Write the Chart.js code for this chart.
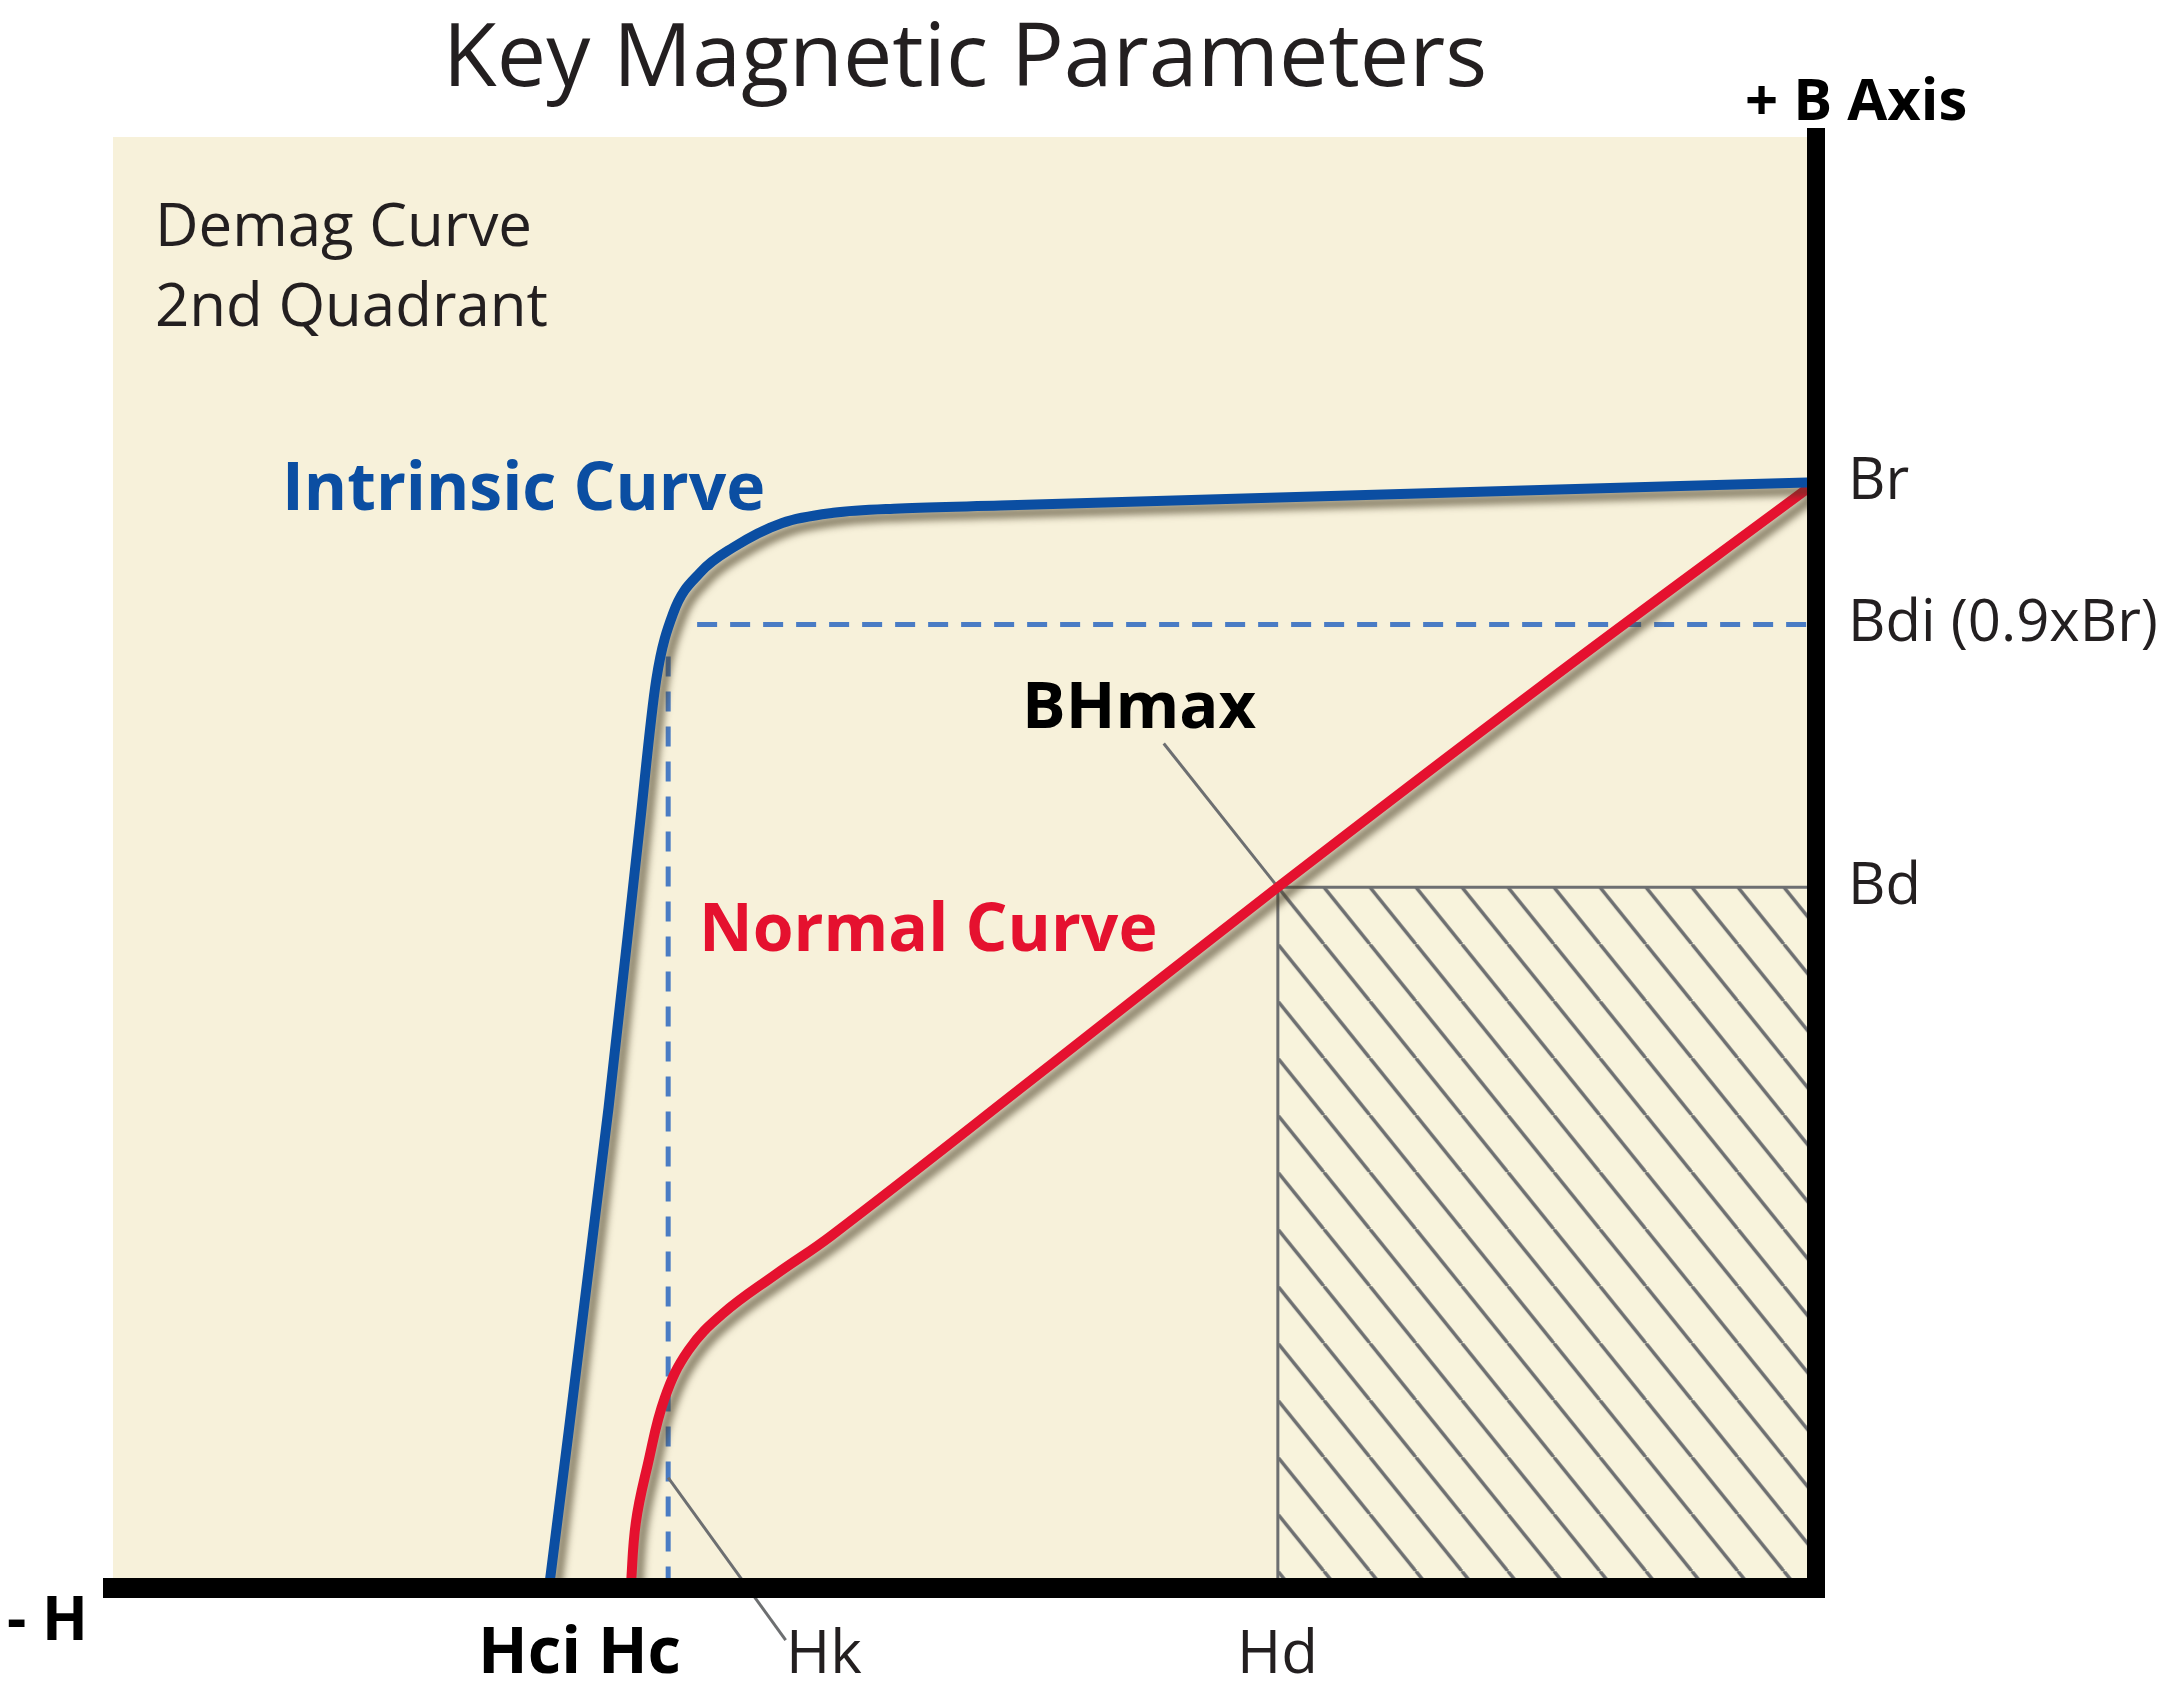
<!DOCTYPE html>
<html>
<head>
<meta charset="utf-8">
<title>Key Magnetic Parameters</title>
<script src="https://cdn.jsdelivr.net/npm/chart.js@4/dist/chart.umd.min.js"></script>
<style>
  html, body { margin: 0; padding: 0; background: #fff; }
  #wrap { width: 2171px; height: 1688px; }
</style>
</head>
<body>
<div id="wrap"><canvas id="bhChart" width="2171" height="1688"></canvas></div>
<script>
// H runs from -100 (far left) to 0 at the B axis, B from 0 up to 100
var intrinsicH = [-74.4, -70.9, -69.1, -68.1, -67.1, -65.5, -63.6, -60.7, -57.7, -53.8, -47.9, -24.4, 0];
var intrinsicB = [0, 33.1, 52.2, 62.6, 67.2, 70.0, 71.7, 73.4, 74.1, 74.4, 74.6, 75.4, 76.2];

var normalH = [-69.6, -69.3, -68.6, -67.6, -66.2, -64.2, -61.1, -57.8, -45.0, -31.6, -16.2, 0];
var normalB = [0, 4.5, 8.5, 13.1, 16.4, 18.9, 21.6, 24.3, 36.0, 48.3, 62.1, 76.2];

// key points
var Br = 76.2;
var Bdi = 66.4;
var Bd = 48.3;
var Hd = -31.6;
var Hk = -67.4;

var bTickValues = [Bd, Bdi, Br];
var bTickLabels = ['Bd', 'Bdi (0.9xBr)', 'Br'];

// leader lines for the labels
var bhLeaderH = [-38.3, Hd];
var bhLeaderB = [58.2, Bd];
var hkLeaderH = [Hk, -60.5];
var hkLeaderB = [7.6, -3.6];

var FONT = '"Open Sans", "Noto Sans", sans-serif';
var BLUE = '#0b4ea2';
var RED = '#e5112f';
var DASH = '#4a7cc4';
var GREY = '#6d6f71';
var INK = '#231f20';
var CREAM = '#f7f1da';

function pts(xs, ys) {
    return xs.map(function (x, i) { return { x: x, y: ys[i] }; });
}

// hatch tile for the BHmax box
var tile = document.createElement('canvas');
tile.width = 46;
tile.height = 57;
var tctx = tile.getContext('2d');
tctx.fillStyle = '#f8f3dc';
tctx.fillRect(0, 0, 46, 57);
tctx.strokeStyle = GREY;
tctx.lineWidth = 3.5;
for (var k = -1; k <= 1; k++) {
    tctx.beginPath();
    tctx.moveTo(k * 46, 0);
    tctx.lineTo(k * 46 + 46, 57);
    tctx.stroke();
}
var canvas = document.getElementById('bhChart');
var ctx = canvas.getContext('2d');
var hatch = ctx.createPattern(tile, 'repeat');

var labels = [
    { t: 'Key Magnetic Parameters', x: 965, y: 86, f: '400 88px ' + FONT, c: INK, a: 'center' },
    { t: '+ B Axis', x: 1745, y: 120, f: 'bold 58px ' + FONT, c: '#000' },
    { t: '- H', x: 7, y: 1640, f: 'bold 60px ' + FONT, c: '#000' },
    { t: 'Demag Curve', x: 155, y: 246, f: '400 60px ' + FONT, c: INK },
    { t: '2nd Quadrant', x: 155, y: 326, f: '400 60px ' + FONT, c: INK },
    { t: 'Intrinsic Curve', x: 282, y: 510, f: 'bold 66px ' + FONT, c: BLUE },
    { t: 'Normal Curve', x: 699, y: 951, f: 'bold 66px ' + FONT, c: RED },
    { t: 'BHmax', x: 1022, y: 728, f: 'bold 65px ' + FONT, c: '#000' },
    { t: 'Hci Hc', x: 478, y: 1673, f: 'bold 65px ' + FONT, c: '#000' },
    { t: 'Hk', x: 786, y: 1673, f: '400 60px ' + FONT, c: INK },
    { t: 'Hd', x: 1237, y: 1673, f: '400 60px ' + FONT, c: INK }
];

var decorPlugin = {
    id: 'decor',
    beforeDraw: function (chart) {
        var c = chart.ctx, a = chart.chartArea;
        c.save();
        c.fillStyle = '#fff';
        c.fillRect(0, 0, chart.width, chart.height);
        c.fillStyle = CREAM;
        c.fillRect(a.left, a.top, a.right - a.left - 9, a.bottom - a.top);
        c.restore();
    },
    beforeDatasetsDraw: function (chart) {
        // start the hatching right at the BHmax corner
        var px = chart.scales.x.getPixelForValue(Hd);
        var py = chart.scales.y.getPixelForValue(Bd);
        hatch.setTransform(new DOMMatrix([1, 0, 0, 1, px, py]));
    },
    beforeDatasetDraw: function (chart, args) {
        var ds = chart.data.datasets[args.index];
        var c = chart.ctx;
        c.save();
        if (ds.shadow) {
            c.shadowColor = 'rgba(70, 60, 35, 0.6)';
            c.shadowBlur = 7;
            c.shadowOffsetX = 7;
            c.shadowOffsetY = 8;
        }
    },
    afterDatasetDraw: function (chart) {
        chart.ctx.restore();
    },
    afterDraw: function (chart) {
        var c = chart.ctx, a = chart.chartArea;
        c.save();
        // close the corner where the two axis lines meet
        c.fillStyle = '#000';
        c.fillRect(a.right - 9, a.bottom - 10, 18, 20);
        labels.forEach(function (l) {
            c.font = l.f;
            c.fillStyle = l.c;
            c.textAlign = l.a || 'left';
            c.textBaseline = 'alphabetic';
            c.fillText(l.t, l.x, l.y);
        });
        c.restore();
    }
};

var lineBase = { showLine: true, pointRadius: 0, pointHoverRadius: 0, fill: false };

var myChart = new Chart(ctx, {
    type: 'scatter',
    data: {
        datasets: [
            Object.assign({}, lineBase, {
                label: 'Intrinsic Curve',
                data: pts(intrinsicH, intrinsicB),
                borderColor: BLUE,
                borderWidth: 10,
                cubicInterpolationMode: 'monotone',
                shadow: true
            }),
            Object.assign({}, lineBase, {
                label: 'Normal Curve',
                data: pts(normalH, normalB),
                borderColor: RED,
                borderWidth: 10,
                tension: 0.4,
                shadow: true
            }),
            Object.assign({}, lineBase, {
                label: 'BHmax leader',
                data: pts(bhLeaderH, bhLeaderB),
                borderColor: GREY,
                borderWidth: 3
            }),
            Object.assign({}, lineBase, {
                label: 'Hk leader',
                data: pts(hkLeaderH, hkLeaderB),
                borderColor: GREY,
                borderWidth: 3,
                clip: false
            }),
            Object.assign({}, lineBase, {
                label: 'Bdi',
                data: pts([-65.7, 0], [Bdi, Bdi]),
                borderColor: DASH,
                borderWidth: 5,
                borderDash: [20, 13]
            }),
            Object.assign({}, lineBase, {
                label: 'Hk',
                data: pts([Hk, Hk], [64.2, 0]),
                borderColor: DASH,
                borderWidth: 5,
                borderDash: [20, 15]
            }),
            Object.assign({}, lineBase, {
                label: 'BHmax box',
                data: pts([Hd, Hd, 0], [0, Bd, Bd]),
                borderColor: GREY,
                borderWidth: 3,
                backgroundColor: hatch,
                fill: 'origin'
            })
        ]
    },
    options: {
        responsive: false,
        devicePixelRatio: 1,
        animation: false,
        events: [],
        layout: { padding: { left: 113, top: 137, right: 0, bottom: 0 } },
        scales: {
            x: {
                type: 'linear',
                min: -100,
                max: 0,
                position: 'bottom',
                grid: { display: false, drawTicks: false },
                ticks: { display: false },
                border: { display: true, color: '#000', width: 20, z: 1 },
                afterFit: function (s) { s.height = 100; }
            },
            y: {
                type: 'linear',
                min: 0,
                max: 100,
                position: 'right',
                grid: { display: false, drawTicks: false },
                border: { display: true, color: '#000', width: 18, z: 1 },
                afterBuildTicks: function (s) {
                    s.ticks = bTickValues.map(function (v) { return { value: v }; });
                },
                ticks: {
                    padding: 32,
                    color: INK,
                    font: { family: FONT, size: 58 },
                    callback: function (v) {
                        var i = bTickValues.indexOf(v);
                        return i >= 0 ? bTickLabels[i] : '';
                    }
                },
                afterFit: function (s) { s.width = 355; }
            }
        },
        plugins: {
            legend: { display: false },
            tooltip: { enabled: false },
            title: { display: false }
        }
    },
    plugins: [decorPlugin]
});
</script>
</body>
</html>
